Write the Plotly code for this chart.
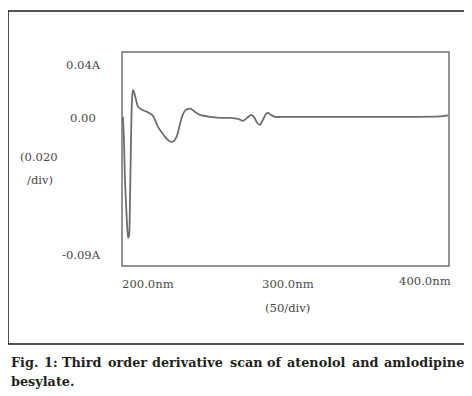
import plotly.graph_objects as go

# Wavelength (nm) and third-order derivative amplitude (A)
wavelength_nm = [200.6, 201.2, 201.8, 202.8, 203.7, 204.3, 204.9, 205.5, 206.1, 206.7,
                 207.3, 208.6, 209.8, 212.2, 215.3, 218.4, 220.2, 222.0, 224.5, 226.3,
                 228.8, 230.0, 231.8, 233.6, 235.5, 236.7, 238.5, 240.4, 242.2, 244.7,
                 247.7, 253.8, 259.9, 266.1, 271.0, 274.0, 276.5, 278.9, 280.7, 282.6,
                 284.4, 286.2, 288.1, 289.3, 291.1, 293.6, 299.7, 308.9, 339.5, 370.0,
                 394.5, 399.4]
derivative_A = [0.0006, -0.0134, -0.0377, -0.0589, -0.0729, -0.0717, -0.0498, -0.0134, 0.0109, 0.0170,
                0.0158, 0.0109, 0.0067, 0.0049, 0.0036, 0.0018, -0.0012, -0.0055, -0.0091, -0.0116,
                -0.0140, -0.0146, -0.0140, -0.0109, -0.0036, 0.0006, 0.0043, 0.0055, 0.0055, 0.0036,
                0.0018, 0.0006, 0.0000, 0.0000, -0.0006, -0.0018, 0.0000, 0.0018, 0.0006, -0.0030,
                -0.0043, -0.0012, 0.0024, 0.0030, 0.0018, 0.0006, 0.0006, 0.0006, 0.0006, 0.0006,
                0.0009, 0.0015]

y_labels = ["0.04A", "0.00", "-0.09A"]
x_labels = ["200.0nm", "300.0nm", "400.0nm"]
y_scale_label = ["(0.020", "/div)"]
x_scale_label = "(50/div)"
caption_words = ["Fig.", "1:", "Third", "order", "derivative", "scan", "of", "atenolol", "and", "amlodipine"]
caption_line2 = "besylate."

# layout positions (paper coords relative to the plot frame)
caption_word_x = [(p - 122) / 327 for p in [9, 42, 60, 106, 150, 228, 265, 285, 350, 382]]

fig = go.Figure()
fig.add_trace(go.Scatter(x=wavelength_nm, y=derivative_A, mode="lines",
                         line=dict(color="#6e6e6e", width=1.8, shape="spline", smoothing=0.6),
                         hoverinfo="skip", showlegend=False))

tick_font = dict(family="DejaVu Serif", size=11.6, color="#4a4a4a")
ann = []
for txt, yp, xp in zip(y_labels, [0.94, 0.692, 0.051], [-0.058, -0.073, -0.058]):
    ann.append(dict(text=txt, xref="paper", yref="paper", x=xp, y=yp, xanchor="right",
                    yanchor="middle", showarrow=False, font=tick_font))
for txt, yp, xp in zip(y_scale_label, [0.509, 0.402], [-0.318, -0.297]):
    ann.append(dict(text=txt, xref="paper", yref="paper", x=xp, y=yp, xanchor="left",
                    yanchor="middle", showarrow=False, font=tick_font))
for txt, xp, yp, xa in zip(x_labels, [-0.006, 0.508, 0.927], [-0.084, -0.084, -0.07],
                           ["left", "center", "center"]):
    ann.append(dict(text=txt, xref="paper", yref="paper", x=xp, y=yp, xanchor=xa,
                    yanchor="middle", showarrow=False, font=tick_font))
ann.append(dict(text=x_scale_label, xref="paper", yref="paper", x=0.505, y=-0.196,
                xanchor="center", yanchor="middle", showarrow=False, font=tick_font))

cap_font = dict(family="DejaVu Serif", size=12.8, color="#231f20", weight="bold")
for w, xp in zip(caption_words, caption_word_x):
    ann.append(dict(text=w, xref="paper", yref="paper", x=xp, y=-0.452,
                    xanchor="left", yanchor="middle", showarrow=False, font=cap_font))
ann.append(dict(text=caption_line2, xref="paper", yref="paper", x=caption_word_x[0], y=-0.538,
                xanchor="left", yanchor="middle", showarrow=False, font=cap_font))

shapes = [
    dict(type="rect", xref="paper", yref="paper", x0=0, x1=1, y0=0, y1=1,
         line=dict(color="#707070", width=1.5)),
    dict(type="rect", xref="paper", yref="paper", x0=-0.3486, x1=1.055, y0=-0.3645, y1=1.1916,
         line=dict(color="#1a1a1a", width=1.5)),
]

fig.update_layout(
    width=464, height=388,
    margin=dict(l=114, r=23, t=44, b=130),
    paper_bgcolor="white", plot_bgcolor="white",
    xaxis=dict(range=[200, 400], showgrid=False, zeroline=False, showticklabels=False,
               ticks="", showline=False),
    yaxis=dict(range=[-0.09, 0.04], showgrid=False, zeroline=False, showticklabels=False,
               ticks="", showline=False),
    annotations=ann, shapes=shapes,
)

fig.write_html("out.html")
